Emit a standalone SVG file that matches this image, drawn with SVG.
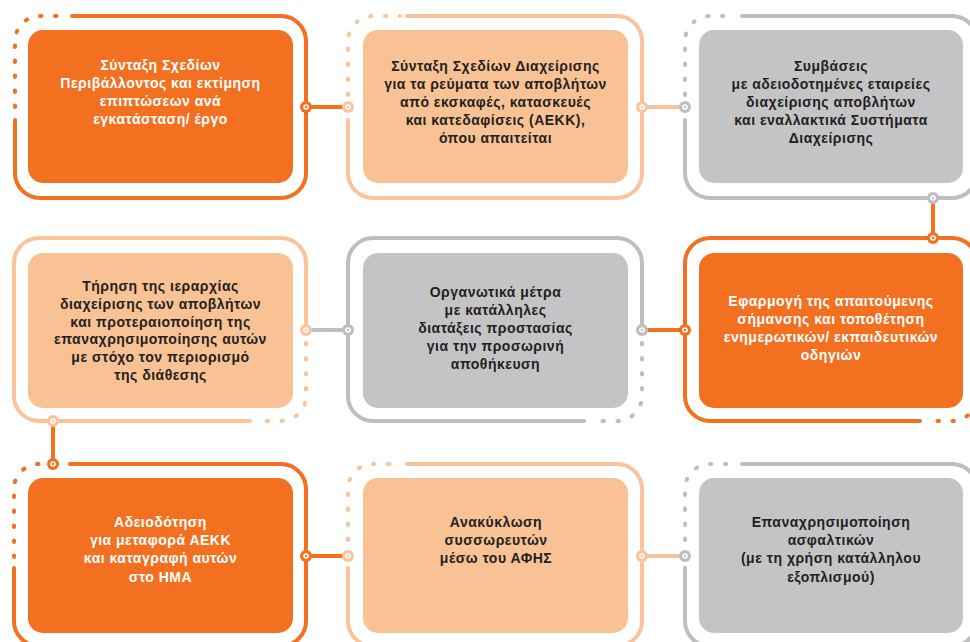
<svg xmlns="http://www.w3.org/2000/svg" width="970" height="642" viewBox="0 0 970 642">
<style>
.fr{fill:none;stroke-width:4;stroke-linecap:round}
.dt{fill:none;stroke-width:4;stroke-linecap:round;stroke-dasharray:1.5 13.5}
.or{stroke:#F37021}
.pe{stroke:#F9C49C}
.gr{stroke:#BEBEC0}
.bor{fill:#F37021}
.bpe{fill:#F9C295}
.bgr{fill:#C4C4C6}
.cn{fill:none;stroke-width:4}
text{font-family:"Liberation Sans",Arial,sans-serif;font-size:14px;font-weight:bold;letter-spacing:0.5px;text-anchor:middle}
.tw{fill:#FFFFFF}
.td{fill:#231F20}
</style>
<defs>
<g id="cO"><circle r="6" fill="#F37021"/><circle r="2.8" fill="#FFFFFF"/><circle r="1.2" fill="#F37021"/></g>
<g id="cP"><circle r="6" fill="#F9C49C"/><circle r="2.8" fill="#FFFFFF"/><circle r="1.2" fill="#F9C49C"/></g>
<g id="cG"><circle r="6" fill="#BEBEC0"/><circle r="2.8" fill="#FFFFFF"/><circle r="1.2" fill="#BEBEC0"/></g>
</defs>
<rect width="970" height="642" fill="#FFFFFF"/>
<g id="connectors">
<line class="cn or" x1="306" y1="107" x2="348" y2="107"/>
<line class="cn pe" x1="642" y1="107" x2="685" y2="107"/>
<line class="cn or" x1="933" y1="198" x2="933" y2="238"/>
<line class="cn or" x1="642" y1="330" x2="685" y2="330"/>
<line class="cn gr" x1="306" y1="330" x2="348" y2="330"/>
<line class="cn or" x1="53" y1="421" x2="53" y2="464"/>
<line class="cn or" x1="306" y1="556" x2="348" y2="556"/>
<line class="cn pe" x1="642" y1="556" x2="685" y2="556"/>
</g>
<g id="node1">
<path class="fr or" d="M72,16 H281 A25,25 0 0 1 306,41 V173 A25,25 0 0 1 281,198 H40 A25,25 0 0 1 15,173 V120"/>
<path class="dt or" d="M15,107 V41 A25,25 0 0 1 40,16 H66"/>
<rect class="bor" x="28" y="30" width="265" height="153" rx="15"/>
<use href="#cO" x="306" y="107"/>
<text class="tw"><tspan x="160.5" y="70">Σύνταξη Σχεδίων</tspan><tspan x="160.5" y="88">Περιβάλλοντος και εκτίμηση</tspan><tspan x="160.5" y="106">επιπτώσεων ανά</tspan><tspan x="160.5" y="124">εγκατάσταση/ έργο</tspan></text>
</g>
<g id="node2">
<path class="fr pe" d="M407,16 H617 A25,25 0 0 1 642,41 V173 A25,25 0 0 1 617,198 H373 A25,25 0 0 1 348,173 V120"/>
<path class="dt pe" d="M348,95 V41 A25,25 0 0 1 373,16 H400"/>
<rect class="bpe" x="363" y="30" width="265" height="153" rx="15"/>
<use href="#cP" x="348" y="107"/>
<use href="#cP" x="642" y="107"/>
<text class="td"><tspan x="495.5" y="71">Σύνταξη Σχεδίων Διαχείρισης</tspan><tspan x="495.5" y="89">για τα ρεύματα των αποβλήτων</tspan><tspan x="495.5" y="107">από εκσκαφές, κατασκευές</tspan><tspan x="495.5" y="125">και κατεδαφίσεις (ΑΕΚΚ),</tspan><tspan x="495.5" y="143">όπου απαιτείται</tspan></text>
</g>
<g id="node3">
<path class="fr gr" d="M742,16 H952 A25,25 0 0 1 977,41 V173 A25,25 0 0 1 952,198 H710 A25,25 0 0 1 685,173 V120"/>
<path class="dt gr" d="M685,95 V41 A25,25 0 0 1 710,16 H736"/>
<rect class="bgr" x="699" y="30" width="264" height="153" rx="15"/>
<use href="#cG" x="685" y="107"/>
<use href="#cG" x="933" y="198"/>
<text class="td"><tspan x="831" y="71">Συμβάσεις</tspan><tspan x="831" y="89">με αδειοδοτημένες εταιρείες</tspan><tspan x="831" y="107">διαχείρισης αποβλήτων</tspan><tspan x="831" y="125">και εναλλακτικά Συστήματα</tspan><tspan x="831" y="143">Διαχείρισης</tspan></text>
</g>
<g id="node4">
<path class="fr pe" d="M250,421 H39 A25,25 0 0 1 14,396 V263 A25,25 0 0 1 39,238 H281 A25,25 0 0 1 306,263 V330"/>
<path class="dt pe" d="M306,343 V396 A25,25 0 0 1 281,421 H257"/>
<rect class="bpe" x="28" y="253" width="265" height="155" rx="15"/>
<use href="#cP" x="306" y="330"/>
<use href="#cP" x="53" y="421"/>
<text class="td"><tspan x="160.5" y="291">Τήρηση της ιεραρχίας</tspan><tspan x="160.5" y="309">διαχείρισης των αποβλήτων</tspan><tspan x="160.5" y="327">και προτεραιοποίηση της</tspan><tspan x="160.5" y="344">επαναχρησιμοποίησης αυτών</tspan><tspan x="160.5" y="362">με στόχο τον περιορισμό</tspan><tspan x="160.5" y="380">της διάθεσης</tspan></text>
</g>
<g id="node5">
<path class="fr gr" d="M584,421 H373 A25,25 0 0 1 348,396 V263 A25,25 0 0 1 373,238 H617 A25,25 0 0 1 642,263 V330"/>
<path class="dt gr" d="M642,343 V396 A25,25 0 0 1 617,421 H591"/>
<rect class="bgr" x="363" y="253" width="265" height="155" rx="15"/>
<use href="#cG" x="348" y="330"/>
<use href="#cG" x="642" y="330"/>
<text class="td"><tspan x="495.5" y="297">Οργανωτικά μέτρα</tspan><tspan x="495.5" y="315">με κατάλληλες</tspan><tspan x="495.5" y="333">διατάξεις προστασίας</tspan><tspan x="495.5" y="351">για την προσωρινή</tspan><tspan x="495.5" y="369">αποθήκευση</tspan></text>
</g>
<g id="node6">
<path class="fr or" d="M920,421 H710 A25,25 0 0 1 685,396 V263 A25,25 0 0 1 710,238 H952 A25,25 0 0 1 977,263 V330"/>
<path class="dt or" d="M977,343 V396 A25,25 0 0 1 952,421 H927"/>
<rect class="bor" x="699" y="253" width="264" height="155" rx="15"/>
<use href="#cO" x="933" y="238"/>
<use href="#cO" x="685" y="330"/>
<text class="tw"><tspan x="831" y="306">Εφαρμογή της απαιτούμενης</tspan><tspan x="831" y="324">σήμανσης και τοποθέτηση</tspan><tspan x="831" y="342">ενημερωτικών/ εκπαιδευτικών</tspan><tspan x="831" y="360">οδηγιών</tspan></text>
</g>
<g id="node7">
<path class="fr or" d="M70,464 H281 A25,25 0 0 1 306,489 V621 A25,25 0 0 1 281,646 H39 A25,25 0 0 1 14,621 V568"/>
<path class="dt or" d="M14,557 V489 A25,25 0 0 1 39,464 H44"/>
<rect class="bor" x="28" y="478" width="265" height="155" rx="15"/>
<use href="#cO" x="53" y="464"/>
<use href="#cO" x="306" y="556"/>
<text class="tw"><tspan x="160.5" y="527">Αδειοδότηση</tspan><tspan x="160.5" y="545">για μεταφορά ΑΕΚΚ</tspan><tspan x="160.5" y="563">και καταγραφή αυτών</tspan><tspan x="160.5" y="582">στο ΗΜΑ</tspan></text>
</g>
<g id="node8">
<path class="fr pe" d="M407,464 H617 A25,25 0 0 1 642,489 V621 A25,25 0 0 1 617,646 H373 A25,25 0 0 1 348,621 V568"/>
<path class="dt pe" d="M348,540 V489 A25,25 0 0 1 373,464 H400"/>
<rect class="bpe" x="363" y="478" width="265" height="155" rx="15"/>
<use href="#cP" x="348" y="556"/>
<use href="#cP" x="642" y="556"/>
<text class="td"><tspan x="496" y="527">Ανακύκλωση</tspan><tspan x="496" y="545">συσσωρευτών</tspan><tspan x="496" y="563">μέσω του ΑΦΗΣ</tspan></text>
</g>
<g id="node9">
<path class="fr gr" d="M742,464 H952 A25,25 0 0 1 977,489 V621 A25,25 0 0 1 952,646 H710 A25,25 0 0 1 685,621 V568"/>
<path class="dt gr" d="M685,540 V489 A25,25 0 0 1 710,464 H736"/>
<rect class="bgr" x="699" y="478" width="264" height="155" rx="15"/>
<use href="#cG" x="685" y="556"/>
<text class="td"><tspan x="831" y="527">Επαναχρησιμοποίηση</tspan><tspan x="831" y="545">ασφαλτικών</tspan><tspan x="831" y="563">(με τη χρήση κατάλληλου</tspan><tspan x="831" y="582">εξοπλισμού)</tspan></text>
</g>
</svg>
